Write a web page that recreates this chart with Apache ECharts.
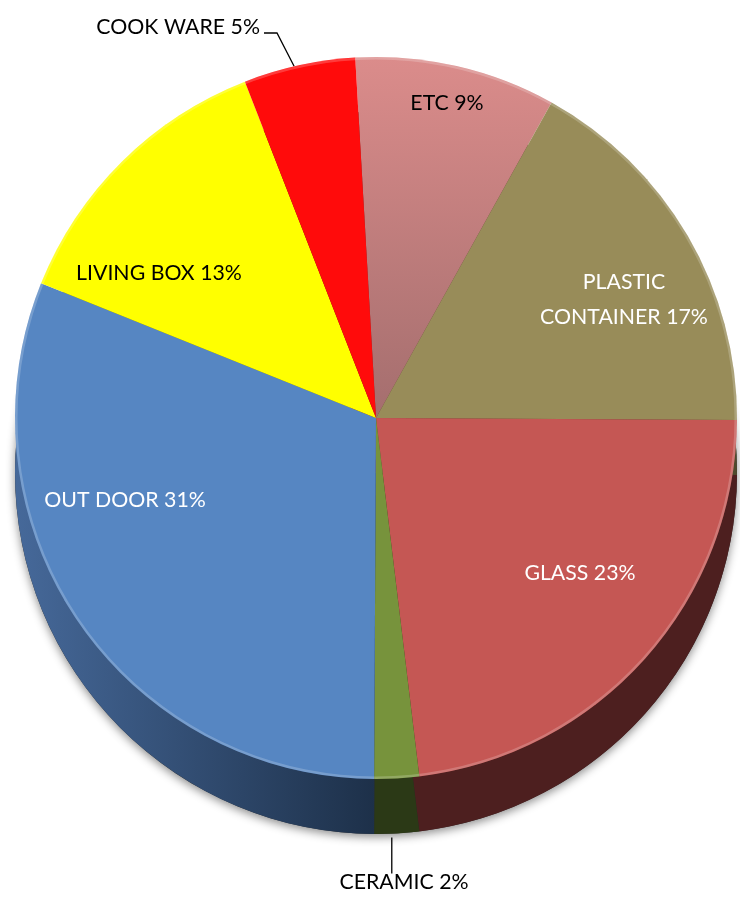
<!DOCTYPE html>
<html>
<head>
<meta charset="utf-8">
<script src="https://cdn.jsdelivr.net/npm/echarts@6/dist/echarts.min.js"></script>
<style>
  html, body { margin: 0; padding: 0; background: #ffffff; }
  #chart { width: 740px; height: 901px; }
</style>
</head>
<body>
<div id="chart"></div>
<script>
// Sales share by product group (percent)
const categories = ['ETC', 'PLASTIC CONTAINER', 'GLASS', 'CERAMIC', 'OUT DOOR', 'LIVING BOX', 'COOK WARE'];
const shares = [9, 17, 23, 2, 31, 13, 5];

// Top face colours and the darker colours of the pie's rim
const faceColors = [
  { type: 'linear', x: 0, y: 0, x2: 0, y2: 1,
    colorStops: [{ offset: 0, color: '#db8c8b' }, { offset: 1, color: '#a46e6e' }] },
  '#988c59', '#c55754', '#77933c', '#5686c2', '#ffff00', '#ff0b0b'
];
const rimColors = [
  '#6b3c3c', '#4f4a2c', '#4d1f1f', '#2b3916',
  { type: 'linear', x: 0, y: 0, x2: 1, y2: 0,
    colorStops: [{ offset: 0, color: '#46699a' }, { offset: 1, color: '#1d3049' }] },
  '#7a7a00', '#7a0000'
];
const labelColors = ['#000000', '#ffffff', '#ffffff', '#000000', '#ffffff', '#000000', '#000000'];

// Label anchors, as offsets from the pie centre
const faceLabelOffsets = [[71, -315], [248, -118], [204, 155], null, [-251, 82], [-217, -145], [-116, -391]];
// Anchor of the ceramic label, measured from the rim's centre
const ceramicLabelOffset = [28, 409];

const CX = 376, CY = 418, R = 361, DEPTH = 55;
const START = 93.3;
const FONT = 'Lato, "Open Sans", sans-serif';
const FONT_SIZE = 21.3;

function labelText(p) {
  const name = p.name.length > 12 ? p.name.replace(' ', '\n') : p.name;
  return name + ' ' + p.value + '%';
}

const faceData = categories.map((name, i) => {
  const item = { name: name, value: shares[i], itemStyle: { color: faceColors[i] },
                 label: { color: labelColors[i] } };
  if (name === 'CERAMIC') {
    item.label.show = false;
  } else if (name === 'COOK WARE') {
    item.label.position = 'outside';
    item.labelLine = { show: true, length: 30, length2: 20,
                       lineStyle: { color: '#000000', width: 1.3 } };
  }
  return item;
});

const rimData = categories.map((name, i) => ({
  name: name, value: shares[i], itemStyle: { color: rimColors[i] },
  label: { show: name === 'CERAMIC' },
  labelLine: { show: name === 'CERAMIC' }
}));

const chart = echarts.init(document.getElementById('chart'), null, { renderer: 'canvas' });

chart.setOption({
  animation: false,
  backgroundColor: '#ffffff',
  series: [
    {
      // soft shadow under the pie body
      type: 'pie', silent: true, z: 1,
      center: [CX, CY + DEPTH], radius: R,
      label: { show: false }, labelLine: { show: false },
      itemStyle: { color: '#2a2a2a', shadowBlur: 10, shadowOffsetY: 3,
                   shadowColor: 'rgba(0,0,0,0.45)' },
      data: [{ name: 'shadow', value: 1 }]
    },
    {
      // rim of the pie
      type: 'pie', silent: true, z: 2,
      center: [CX, CY + DEPTH], radius: R,
      startAngle: START, clockwise: true,
      avoidLabelOverlap: false,
      label: { position: 'outside', formatter: labelText, color: '#000000',
               fontFamily: FONT, fontSize: FONT_SIZE },
      labelLine: { length: 26, length2: 0, lineStyle: { color: '#000000', width: 1.3 } },
      labelLayout: function (p) {
        if (p.dataIndex !== 3) return {};
        const x = CX + ceramicLabelOffset[0];
        const y = CY + DEPTH + ceramicLabelOffset[1];
        const edge = p.labelLinePoints ? p.labelLinePoints[0] : [x, y - 40];
        const top = y - p.labelRect.height / 2;
        return {
          x: x, y: y, align: 'center', verticalAlign: 'middle',
          labelLinePoints: [[edge[0] - 5, edge[1] + 4], [edge[0] - 5, top + 2]]
        };
      },
      data: rimData
    },
    {
      // top face
      type: 'pie', silent: true, z: 3,
      center: [CX, CY], radius: R,
      startAngle: START, clockwise: true,
      avoidLabelOverlap: false,
      label: { position: 'inside', formatter: labelText,
               fontFamily: FONT, fontSize: FONT_SIZE, lineHeight: 35, align: 'center' },
      labelLayout: function (p) {
        const off = faceLabelOffsets[p.dataIndex];
        if (!off) return {};
        if (p.dataIndex === 6) {
          // label sits left of its leader line, which bends at the text baseline
          const x = CX + off[0], y = CY + off[1];
          const edge = p.labelLinePoints ? p.labelLinePoints[0] : [x + 35, y + 40];
          return {
            x: x, y: y, align: 'right', verticalAlign: 'middle',
            labelLinePoints: [[edge[0] - 5, edge[1] + 1], [x + 17, y + 6], [x + 4, y + 6]]
          };
        }
        return { x: CX + off[0], y: CY + off[1], align: 'center', verticalAlign: 'middle' };
      },
      data: faceData
    },
    {
      // light bevel along the face edge
      type: 'pie', silent: true, z: 4,
      center: [CX, CY], radius: [R - 2.5, R],
      label: { show: false }, labelLine: { show: false },
      itemStyle: { color: 'rgba(255,255,255,0.2)' },
      data: [{ name: 'edge', value: 1 }]
    }
  ]
});
</script>
</body>
</html>
